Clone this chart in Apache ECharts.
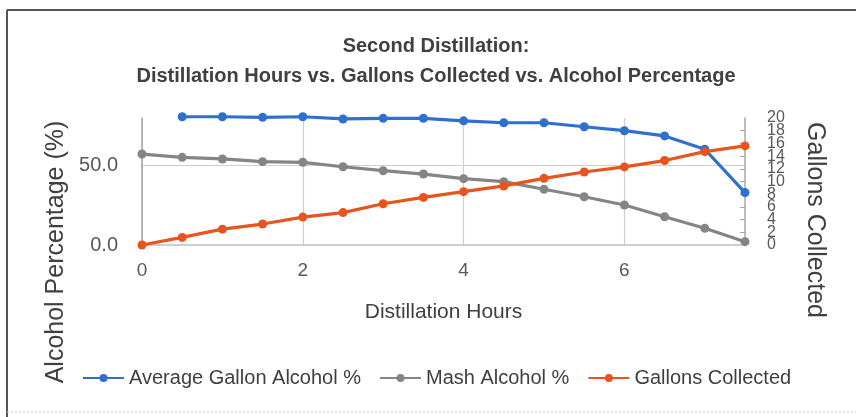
<!DOCTYPE html>
<html>
<head>
<meta charset="utf-8">
<script src="https://cdn.jsdelivr.net/npm/echarts@6/dist/echarts.min.js"></script>
<style>
  html, body { margin: 0; padding: 0; background: #fff; }
  #chartDiv { width: 856px; height: 417px; }
</style>
</head>
<body>
<div id="chartDiv"></div>
<script>
// data
var hours = [0, 0.5, 1, 1.5, 2, 2.5, 3, 3.5, 4, 4.5, 5, 5.5, 6, 6.5, 7, 7.5];
var avgGallonAlcohol = [null, 80.8, 80.8, 80.4, 80.8, 79.4, 79.8, 79.8, 78.2, 77.0, 77.0, 74.5, 72.0, 68.7, 60.3, 33.0];
var mashAlcohol = [57.3, 55.2, 54.2, 52.5, 52.1, 49.3, 46.8, 44.7, 41.8, 39.9, 35.1, 30.4, 25.2, 17.8, 10.5, 2.1];
var gallonsCollected = [0, 1.2, 2.5, 3.3, 4.4, 5.1, 6.5, 7.5, 8.4, 9.3, 10.5, 11.5, 12.3, 13.3, 14.7, 15.6];
var seriesNames = ['Average Gallon Alcohol %', 'Mash Alcohol %', 'Gallons Collected'];

var FONT = '"Liberation Sans", Arial, sans-serif';

function pairs(ys)
{
	var out = [];
	for (var i = 0; i < hours.length; i++) {
		out.push([hours[i], ys[i]]);
	}
	return out;
}

function lineSeries(name, ys, color, yIndex, z)
{
	return {
		name: name,
		type: 'line',
		yAxisIndex: yIndex,
		data: pairs(ys),
		symbol: 'circle',
		symbolSize: 9,
		clip: false,
		z: z,
		lineStyle: { color: color, width: 3.2 },
		itemStyle: { color: color }
	};
}

var rightLabel = { margin: 22, fontSize: 16, color: '#595959', hideOverlap: false };

var chart = echarts.init(document.getElementById('chartDiv'));
var option = {
	animation: false,
	textStyle: { fontFamily: FONT },
	grid: { left: 142, right: 111, top: 118, bottom: 172 },
	legend: {
		data: seriesNames,
		left: 82,
		top: 368,
		padding: 0,
		itemWidth: 41,
		itemHeight: 10,
		itemGap: 18,
		textStyle: { fontSize: 20, color: '#404040', fontFamily: FONT }
	},
	xAxis: {
		type: 'value',
		min: 0,
		max: 7.5,
		interval: 2,
		name: 'Distillation Hours',
		nameLocation: 'middle',
		nameGap: 57,
		nameTextStyle: { fontSize: 21, color: '#404040' },
		axisLine: { show: true, lineStyle: { color: '#bfbfbf', width: 1.5 } },
		axisTick: { show: false },
		axisLabel: { margin: 16, fontSize: 19, color: '#595959', showMaxLabel: false },
		splitLine: { show: true, showMaxLine: false, lineStyle: { color: '#d0d0d0', width: 1.2 } }
	},
	yAxis: [{
		type: 'value',
		min: 0,
		max: 80,
		interval: 50,
		position: 'left',
		axisLine: { show: true, lineStyle: { color: '#a6a6a6', width: 1.5 } },
		axisTick: { show: false },
		axisLabel: {
			margin: 24, fontSize: 20, color: '#595959', showMaxLabel: false,
			formatter: function(v) { return v.toFixed(1); }
		},
		splitLine: { show: true, showMinLine: false, showMaxLine: false, lineStyle: { color: '#d0d0d0', width: 1.2 } }
	}, {
		// gallons axis: inner labels 2..18
		type: 'value',
		min: 0,
		max: 20,
		interval: 2,
		position: 'right',
		axisLine: { show: true, lineStyle: { color: '#a6a6a6', width: 1.5 } },
		axisTick: { show: true, inside: true, length: 5, lineStyle: { color: '#a6a6a6' } },
		axisLabel: Object.assign({ showMinLabel: false, showMaxLabel: false }, rightLabel),
		splitLine: { show: false }
	}, {
		// same gallons scale, only the end labels 0 and 20
		type: 'value',
		min: 0,
		max: 20,
		interval: 20,
		position: 'right',
		axisLine: { show: false },
		axisTick: { show: false },
		axisLabel: Object.assign({ showMinLabel: true, showMaxLabel: true }, rightLabel),
		splitLine: { show: false }
	}],
	graphic: [
		{
			type: 'text', x: 436, y: 31,
			style: {
				text: 'Second Distillation:\nDistillation Hours vs. Gallons Collected vs. Alcohol Percentage',
				align: 'center', verticalAlign: 'top', lineHeight: 30,
				font: 'bold 20px ' + FONT, fill: '#404040'
			}
		},
		{
			type: 'text', x: 56, y: 252, rotation: Math.PI / 2,
			style: {
				text: 'Alcohol Percentage (%)', align: 'center', verticalAlign: 'middle',
				font: '25px ' + FONT, fill: '#404040'
			}
		},
		{
			type: 'text', x: 815, y: 220, rotation: -Math.PI / 2,
			style: {
				text: 'Gallons Collected', align: 'center', verticalAlign: 'middle',
				font: '25px ' + FONT, fill: '#404040'
			}
		},
		// chart frame
		{ type: 'line', shape: { x1: 7, y1: 10, x2: 856, y2: 10 }, style: { stroke: '#555555', lineWidth: 2 } },
		{ type: 'line', shape: { x1: 7, y1: 10, x2: 7, y2: 417 }, style: { stroke: '#555555', lineWidth: 2 } },
		{ type: 'line', shape: { x1: 7, y1: 412, x2: 856, y2: 412 }, style: { stroke: '#cccccc', lineWidth: 1, lineDash: [2, 2] } }
	],
	series: [
		lineSeries(seriesNames[0], avgGallonAlcohol, '#2f6fcf', 0, 3),
		lineSeries(seriesNames[1], mashAlcohol, '#858585', 0, 4),
		lineSeries(seriesNames[2], gallonsCollected, '#e8541d', 1, 5)
	]
};
chart.setOption(option);
</script>
</body>
</html>
